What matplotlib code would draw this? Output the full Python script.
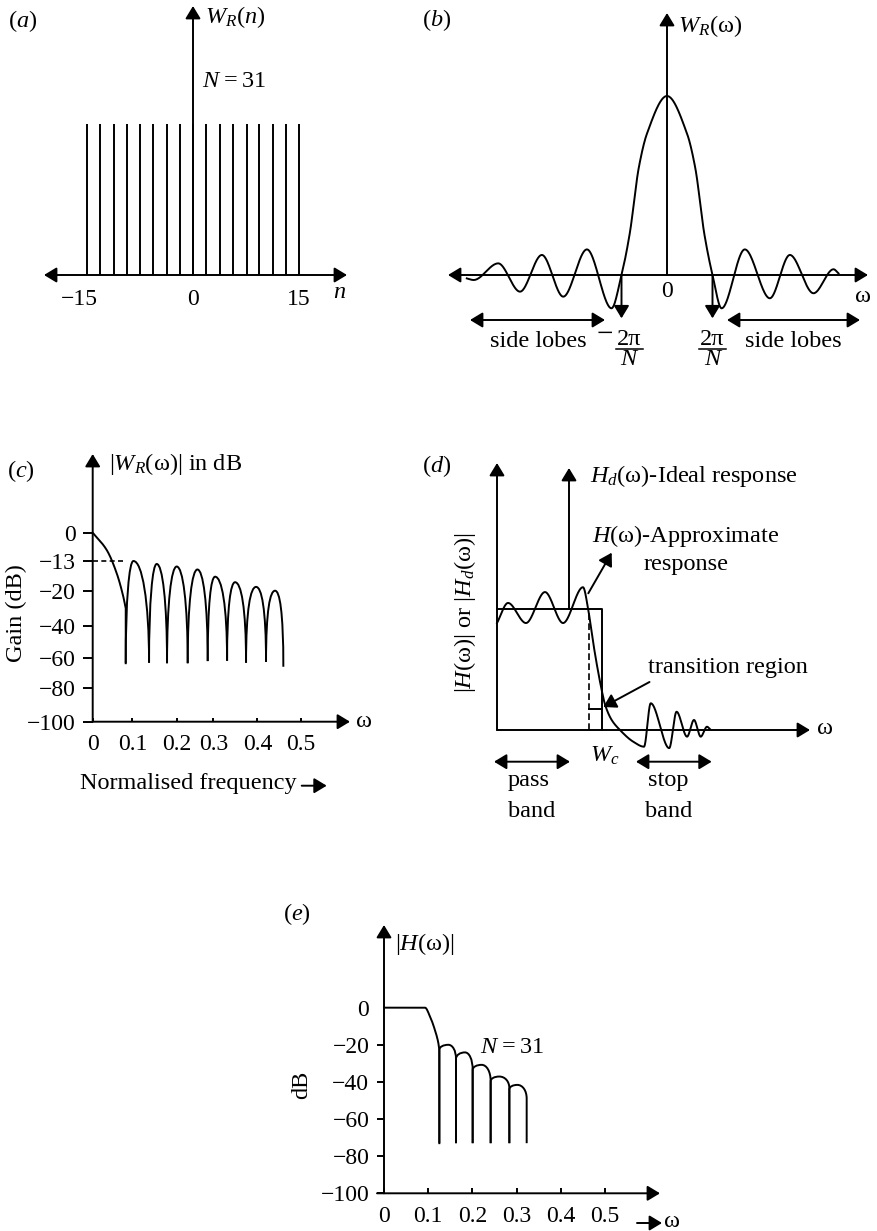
import numpy as np
import matplotlib
matplotlib.use("Agg")
import matplotlib.pyplot as plt
from matplotlib.path import Path
from matplotlib.patches import PathPatch

plt.rcParams.update({
    "font.family": ["Liberation Serif", "DejaVu Serif"],
    "mathtext.fontset": "custom",
    "mathtext.rm": "Liberation Serif",
    "mathtext.it": "Liberation Serif:italic",
    "mathtext.bf": "Liberation Serif:bold",
    "font.size": 17,
})

# ---------------- data ----------------
# (a) rectangular window samples, N = 31 (drawn schematically)
a_n = [-15, -13.1, -11.2, -9.3, -7.5, -5.6, -3.7, -1.8, 0,
       1.9, 3.8, 5.7, 7.6, 9.4, 11.3, 13.2, 15]
a_w = [1, 1, 1, 1, 1, 1, 1, 1, 1, 1, 1, 1, 1, 1, 1, 1, 1]
a_tick_n = [-15, 0, 15]
a_tick_lab = ["\u221215", "0", "15"]

# (b) W_R(w): frequency in units of 2*pi/N, amplitude normalised to the main lobe
b_w = [-4.40, -4.25, -3.71, -3.23, -2.75, -2.28, -1.76, -1.22, -1.0, -0.82, -0.62,
       -0.44, 0.0, 0.44, 0.62, 0.82, 1.0, 1.20, 1.71, 2.26, 2.70, 3.22, 3.66, 3.77]
b_amp = [-0.019, -0.028, 0.065, -0.093, 0.112, -0.121, 0.143, -0.186, 0.0, 0.23, 0.60,
         0.79, 1.0, 0.79, 0.60, 0.23, 0.0, -0.186, 0.143, -0.130, 0.112, -0.102, 0.032, 0.009]

# (c) |W_R(w)| in dB against normalised frequency
c_tick_f = [0, 0.1, 0.2, 0.3, 0.4, 0.5]
c_tick_f_lab = ["0", "0.1", "0.2", "0.3", "0.4", "0.5"]
c_tick_db = [0, -13, -20, -40, -60, -80, -100]
c_tick_db_lab = ["0", "\u221213", "\u221220", "\u221240", "\u221260", "\u221280", "\u2212100"]
c_main_f = [0.0, 0.0353, 0.0605, 0.0771, 0.0832]
c_main_db = [0.0, -7.95, -15.9, -23.4, -30.0]
c_null_f = [0.0832, 0.1376, 0.1782, 0.2300, 0.2845, 0.3311, 0.3742, 0.4198, 0.4595]
c_null_db = [-63.6, -63.3, -63.6, -63.6, -62.2, -62.0, -63.3, -62.8, -65.9]
c_peak_f = [0.1023, 0.1549, 0.2000, 0.2564, 0.3038, 0.3492, 0.3970, 0.4405]
c_peak_db = [-13.0, -13.7, -14.3, -15.0, -16.7, -18.0, -19.1, -20.0]

# (d) ideal and approximate low-pass magnitude (w normalised to W_c)
d_ideal_w = [0.0, 1.0, 1.0]
d_ideal_h = [1.0, 1.0, 0.0]
d_w = [0.0, 0.105, 0.276, 0.457, 0.629, 0.819, 0.87, 0.902, 0.949, 0.997, 1.029,
       1.092, 1.171, 1.298, 1.40, 1.464, 1.64, 1.71, 1.81, 1.876, 1.94, 2.0, 2.03]
d_h = [0.884, 1.05, 0.884, 1.14, 0.884, 1.18, 0.99, 0.80, 0.55, 0.33, 0.21,
       0.083, 0.0, -0.097, -0.138, 0.221, -0.15, 0.151, -0.055, 0.083, -0.055, 0.027, 0.006]

# (e) |H(w)| in dB, N = 31
e_tick_f = [0, 0.1, 0.2, 0.3, 0.4, 0.5]
e_tick_f_lab = ["0", "0.1", "0.2", "0.3", "0.4", "0.5"]
e_tick_db = [0, -20, -40, -60, -80, -100]
e_tick_db_lab = ["0", "\u221220", "\u221240", "\u221260", "\u221280", "\u2212100"]
e_main_f = [0.0, 0.0928, 0.104, 0.115, 0.123, 0.1252]
e_main_db = [0.0, 0.0, -4.7, -11.9, -19.1, -22.7]
e_null_f = [0.1252, 0.1629, 0.2006, 0.2413, 0.2836, 0.3228]
e_start_db = [-22.7, -27.6, -33.5, -39.6, -44.0]
e_peak_f = [0.1456, 0.1833, 0.2210, 0.2609, 0.3017]
e_peak_db = [-20.0, -24.1, -30.8, -37.1, -41.6]
e_end_db = [-27.6, -33.5, -39.6, -43.4, -49.0]
e_floor_db = -73.0

# ---------------- layout ----------------
W_PX, H_PX = 877, 1231
LW = 1.4
TXT = 17.5
TICK = 17
HEAD = "head_length=0.38,head_width=0.23"

fig = plt.figure(figsize=(W_PX / 100, H_PX / 100), dpi=100)
fig.patch.set_facecolor("white")


def box_axes(left, top, right, bottom):
    ax = fig.add_axes([left / W_PX, 1 - bottom / H_PX,
                       (right - left) / W_PX, (bottom - top) / H_PX])
    ax.patch.set_visible(False)
    return ax


def linear_panel(box, origin, scale):
    l, t, r, b = box
    ax = box_axes(l, t, r, b)
    ax.set_xlim((l - origin[0]) / scale[0], (r - origin[0]) / scale[0])
    ax.set_ylim((origin[1] - b) / scale[1], (origin[1] - t) / scale[1])
    ax.axis("off")
    return ax


def smooth(xk, yk, num=600):
    """Monotone cubic (PCHIP) curve through the given points."""
    x = np.asarray(xk, float)
    y = np.asarray(yk, float)
    h = np.diff(x)
    d = np.diff(y) / h
    m = np.zeros_like(y)
    for i in range(1, len(x) - 1):
        if d[i - 1] * d[i] > 0:
            w1 = 2 * h[i] + h[i - 1]
            w2 = h[i] + 2 * h[i - 1]
            m[i] = (w1 + w2) / (w1 / d[i - 1] + w2 / d[i])
    m[0], m[-1] = d[0], d[-1]
    xs = np.linspace(x[0], x[-1], num)
    k = np.clip(np.searchsorted(x, xs, side="right") - 1, 0, len(h) - 1)
    t = (xs - x[k]) / h[k]
    ys = ((2 * t**3 - 3 * t**2 + 1) * y[k] + (t**3 - 2 * t**2 + t) * h[k] * m[k]
          + (-2 * t**3 + 3 * t**2) * y[k + 1] + (t**3 - t**2) * h[k] * m[k + 1])
    return xs, ys


def piecewise(src, dst):
    src = np.asarray(src, float)
    dst = np.asarray(dst, float)
    lo = (dst[1] - dst[0]) / (src[1] - src[0])
    hi = (dst[-1] - dst[-2]) / (src[-1] - src[-2])

    def f(v):
        v = np.asarray(v, float)
        out = np.interp(v, src, dst)
        out = np.where(v < src[0], dst[0] + (v - src[0]) * lo, out)
        return np.where(v > src[-1], dst[-1] + (v - src[-1]) * hi, out)
    return f


def lobe(ax, xl, yfl, ys, xp, yp, xr, ye, yfr, kv=0.75, kh=0.55):
    verts = [(xl, yfl), (xl, ys),
             (xl, ys + kv * (yp - ys)), (xp - kh * (xp - xl), yp), (xp, yp),
             (xp + kh * (xr - xp), yp), (xr, ye + kv * (yp - ye)), (xr, ye),
             (xr, yfr)]
    codes = [Path.MOVETO, Path.LINETO, Path.CURVE4, Path.CURVE4, Path.CURVE4,
             Path.CURVE4, Path.CURVE4, Path.CURVE4, Path.LINETO]
    ax.add_patch(PathPatch(Path(verts, codes), fill=False, lw=LW, ec="k",
                           clip_on=False, joinstyle="round"))


ov = fig.add_axes([0, 0, 1, 1], zorder=10)
ov.set_xlim(0, W_PX)
ov.set_ylim(H_PX, 0)
ov.axis("off")
ov.patch.set_visible(False)


def arrow(p0, p1, double=False, ax=None):
    ax = ov if ax is None else ax
    style = ("<|-|>" if double else "-|>") + "," + HEAD
    ax.annotate("", xy=p1, xytext=p0, annotation_clip=False,
                arrowprops=dict(arrowstyle=style, lw=LW, color="k", shrinkA=0,
                                shrinkB=0, mutation_scale=20))


def label(x, y, s, ha="left", size=TXT, va="baseline", **kw):
    ov.text(x, y, s, ha=ha, va=va, fontsize=size, **kw)


def vlabel(x, y, s, size=TXT):
    ov.text(x, y, s, ha="center", va="center", rotation=90, fontsize=size)


N_EQ = r"$N$" + "\u2009=\u200931"

# ---------------- (a) ----------------
ax_a = linear_panel((44, 6, 347, 275), (193, 275), (106 / 15, 151))
ax_a.vlines(a_n, 0, a_w, color="k", lw=LW)
for n, s in zip(a_tick_n, a_tick_lab):
    ax_a.annotate(s, xy=(n, 0), xytext=(7.6 if n < 0 else 0, -21.6),
                  textcoords="offset points", ha="right" if n < 0 else "center",
                  va="baseline", fontsize=TICK, annotation_clip=False)
arrow((44, 275), (347, 275), double=True)
arrow((193, 275), (193, 6))
label(8, 26.7, r"$(a)$")
label(205, 23.3, r"$W_R(n)$")
label(202, 87, N_EQ)
label(340, 298, r"$n$", ha="center")

# ---------------- (b) ----------------
ax_b = linear_panel((448, 13, 868, 275), (667, 275), (45.5, 179))
bx, by = smooth(b_w, b_amp, 900)
ax_b.plot(bx, by, color="k", lw=LW, clip_on=False)
arrow((-1, 0), (-1, -0.242), ax=ax_b)
arrow((1, 0), (1, -0.242), ax=ax_b)
ax_b.annotate("0", xy=(0, 0), xytext=(0, -15.6), textcoords="offset points",
              ha="center", va="baseline", fontsize=TICK, annotation_clip=False)
arrow((448, 275), (868, 275), double=True)
arrow((667, 275), (667, 13))
label(422, 26, r"$(b)$")
label(678, 31.7, r"$W_R(\mathrm{\omega})$")
label(863, 301.7, "\u03c9", ha="center")
arrow((470, 320), (605, 320), double=True)
arrow((727, 320), (860, 320), double=True)
label(538.3, 346.7, "side lobes", ha="center")
label(793.3, 346.7, "side lobes", ha="center")
label(604.5, 335, "\u2212", ha="center", size=21, va="center")
for cx in (629, 712.5):
    label(cx, 345, "2\u03c0", ha="center")
    ov.plot([cx - 13.5, cx + 13.5], [348.5, 348.5], color="k", lw=1.1)
    label(cx + 1, 365, r"$N$", ha="center")

# ---------------- (c) ----------------
ax_c = box_axes(92.7, 454, 350, 721.7)
fx = piecewise([0, 0.1, 0.2, 0.3, 0.4, 0.5], [0, 39.7, 84.0, 120.7, 164.7, 208.3])
fx_inv = piecewise([0, 39.7, 84.0, 120.7, 164.7, 208.3], [0, 0.1, 0.2, 0.3, 0.4, 0.5])
fy = piecewise([-100, -80, -60, -40, -20, -13, 0], [0, 33.3, 64, 95.7, 131, 160.7, 189])
fy_inv = piecewise([0, 33.3, 64, 95.7, 131, 160.7, 189], [-100, -80, -60, -40, -20, -13, 0])
ax_c.set_xscale("function", functions=(fx, fx_inv))
ax_c.set_yscale("function", functions=(fy, fy_inv))

# main lobe: smoothed on the drawn (scaled) axes so it follows the tick spacing
px_s, py_s = smooth(fx(c_main_f), fy(c_main_db), 300)
ax_c.plot(np.append(fx_inv(px_s), c_null_f[0]), np.append(fy_inv(py_s), c_null_db[0]),
          color="k", lw=LW, clip_on=False)
for i in range(len(c_peak_f)):
    lobe(ax_c, c_null_f[i], c_null_db[i], c_null_db[i], c_peak_f[i], c_peak_db[i],
         c_null_f[i + 1], c_null_db[i + 1], c_null_db[i + 1])
ax_c.plot([0, c_null_f[0]], [c_peak_db[0], c_peak_db[0]], color="k", lw=1.2,
          ls=(0, (3, 2)), clip_on=False)

ax_c.set_xlim(0, float(fx_inv(257.3)))
ax_c.set_ylim(-100, float(fy_inv(267.7)))
ax_c.set_xticks(c_tick_f, c_tick_f_lab)
ax_c.set_yticks(c_tick_db, c_tick_db_lab)
ax_c.minorticks_off()
ax_c.tick_params(axis="x", direction="in", length=3, width=LW, pad=9, labelsize=TICK)
ax_c.tick_params(axis="y", direction="out", length=7, width=LW, pad=5, labelsize=TICK)
for sp in ax_c.spines.values():
    sp.set_visible(False)

arrow((92.7, 721.7), (92.7, 454))
arrow((92.7, 721.7), (350, 721.7))
label(7, 476.7, r"$(c)$")
label(109, 470, r"$|W_R(\mathrm{\omega})|$ in dB")
vlabel(16, 613, "Gain (dB)")
label(80, 789, "Normalised frequency")
arrow((301.7, 785.7), (326.7, 785.7))
label(364, 727.3, "\u03c9", ha="center")

# ---------------- (d) ----------------
ax_d = linear_panel((497, 463, 810, 730), (497, 730), (105, 121))
ax_d.plot(d_ideal_w, d_ideal_h, color="k", lw=LW, clip_on=False)
ax_d.plot([0.876, 0.876], [0, 1], color="k", lw=1.2, ls=(0, (4, 2)))
ax_d.plot([0.876, 1.0], [0.174, 0.174], color="k", lw=LW)
dx, dy = smooth(d_w, d_h, 1200)
ax_d.plot(dx, dy, color="k", lw=LW, clip_on=False)

arrow((497, 730), (497, 463))
arrow((497, 730), (810, 730))
arrow((569, 609), (569, 468))
arrow((588.3, 593.3), (611.7, 552.7))
arrow((649.5, 682), (603.3, 707))
arrow((494, 761.7), (570, 761.7), double=True)
arrow((636, 761.7), (711.7, 761.7), double=True)
label(422, 471.7, r"$(d)$")
label(590, 481.7, r"$H_d(\mathrm{\omega})$-Ideal response")
label(591.7, 541.7, r"$H(\mathrm{\omega})$-Approximate")
label(643.3, 570, "response")
label(648.3, 673.3, "transition region")
label(590, 761.7, r"$W_c$")
label(825, 734, "\u03c9", ha="center")
label(528.3, 786, "pass", ha="center")
label(531.7, 816.7, "band", ha="center")
label(668.3, 786, "stop", ha="center")
label(668.3, 816.7, "band", ha="center")
vlabel(465, 613, r"$|H(\mathrm{\omega})|$ or $|H_d(\mathrm{\omega})|$")

# ---------------- (e) ----------------
ax_e = box_axes(384, 925, 660, 1193.3)
ex, ey = smooth(e_main_f, e_main_db, 300)
ax_e.plot(np.append(ex, e_null_f[0]), np.append(ey, e_floor_db),
          color="k", lw=LW, clip_on=False)
for i in range(len(e_peak_f)):
    lobe(ax_e, e_null_f[i], e_floor_db, e_start_db[i], e_peak_f[i], e_peak_db[i],
         e_null_f[i + 1], e_end_db[i], e_floor_db, kv=0.6, kh=0.55)
ax_e.set_xlim(0, 276 / 442)
ax_e.set_ylim(-100, (1007.7 - 925) / 1.857)
ax_e.set_xticks(e_tick_f, e_tick_f_lab)
ax_e.set_yticks(e_tick_db, e_tick_db_lab)
ax_e.minorticks_off()
ax_e.tick_params(axis="x", direction="in", length=3.6, width=LW, pad=9, labelsize=TICK)
ax_e.tick_params(axis="y", direction="out", length=4.8, width=LW, pad=5.8, labelsize=TICK)
ax_e.yaxis.get_major_ticks()[0].tick1line.set_visible(False)
for sp in ax_e.spines.values():
    sp.set_visible(False)

arrow((384, 1193.3), (384, 925))
arrow((377, 1193.3), (660, 1193.3))
label(283.3, 920, r"$(e)$")
label(395, 950, r"$|H(\mathrm{\omega})|$")
label(480, 1053.3, N_EQ)
vlabel(301.7, 1085, "dB")
arrow((637, 1223), (662, 1223))
label(672, 1226.7, "\u03c9", ha="center")

fig.savefig("out.png", dpi=100)
